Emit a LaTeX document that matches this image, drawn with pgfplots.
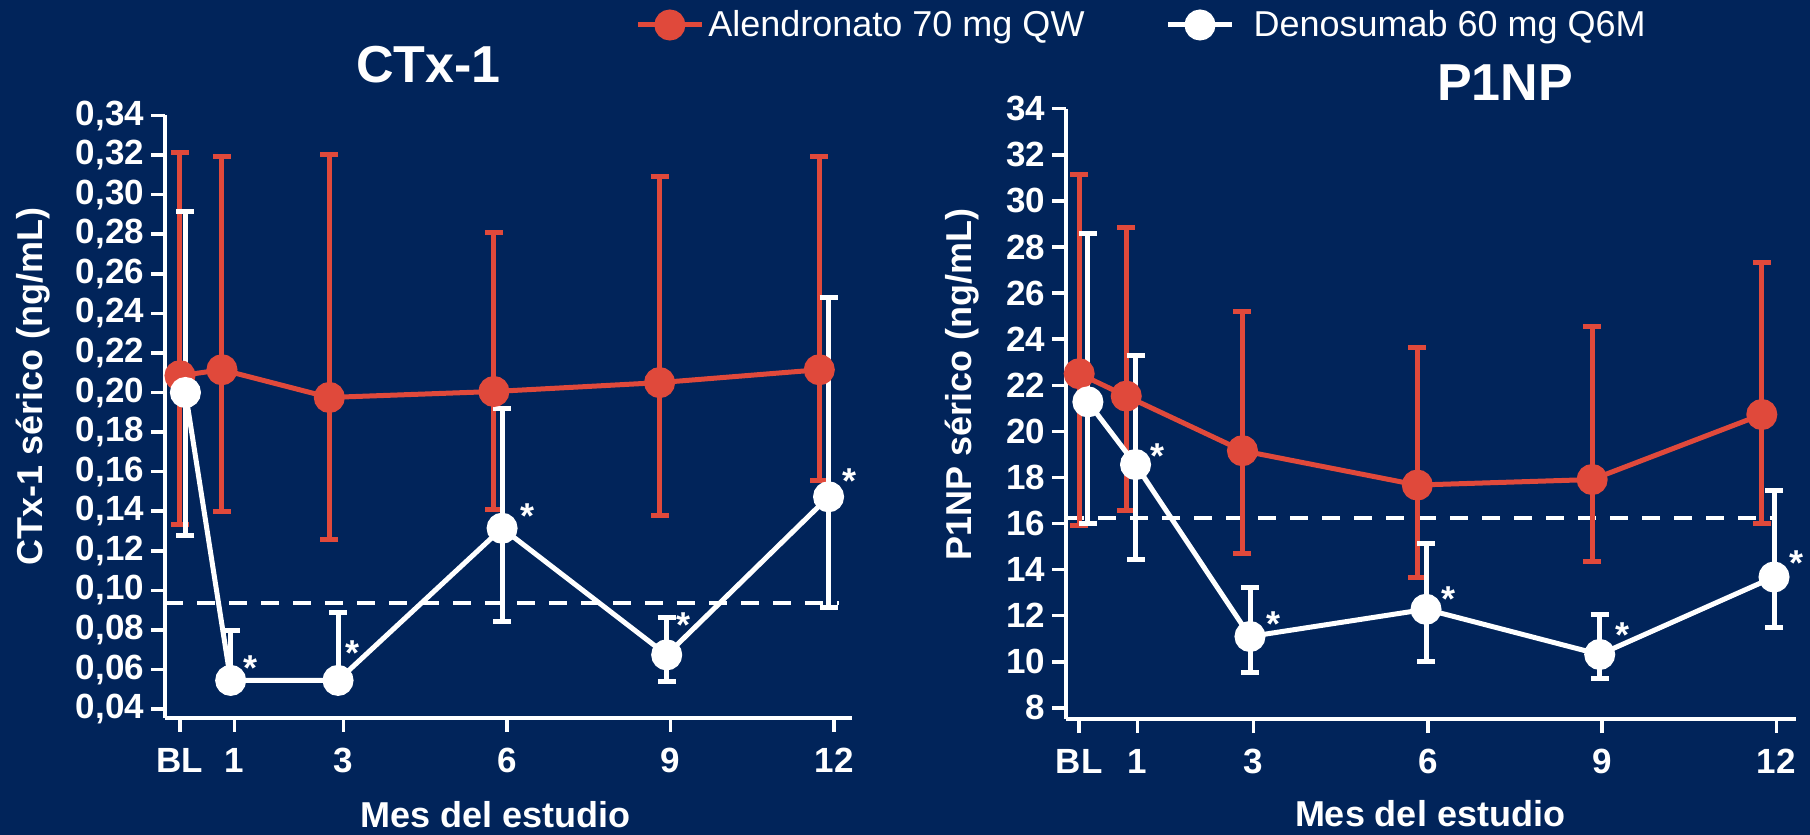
\documentclass[border=0pt]{standalone}
\usepackage{fontspec}
\setmainfont{Liberation Sans}
\usepackage{pgfplots}
\pgfplotsset{compat=1.18}

\definecolor{navy}{RGB}{1,36,90}
\definecolor{alen}{RGB}{224,73,59}

\tikzset{
  star/.style={text=white, font=\fontsize{18bp}{22bp}\selectfont\bfseries, inner sep=0pt, yshift=-4bp},
}

\pgfplotsset{
  panel/.style={
    scale only axis, clip=false,
    axis x line*=bottom, axis y line*=left,
    axis line style={white, line width=1.75bp, -},
    tick align=outside, major tick length=7bp,
    every tick/.style={white, line width=1.75bp},
    tick label style={text=white, font=\fontsize{17.5bp}{21bp}\selectfont\bfseries},
    xticklabel style={yshift=-4.5bp},
    xtick={0,1,3,6,9,12}, xticklabels={BL,1,3,6,9,12},
    label style={text=white, font=\fontsize{18bp}{22bp}\selectfont\bfseries},
    title style={text=white, font=\fontsize{26bp}{31bp}\selectfont\bfseries},
    xlabel={Mes del estudio},
    /pgf/number format/assume math mode=true,
  },
  grp/.style={color=#1, line width=2.5bp, mark=*, mark size=6.5bp,
    mark options={draw=none, fill=#1},
    error bars/.cd, y dir=both, y explicit,
    error bar style={line width=2.5bp, color=#1, solid},
    error mark options={rotate=90, mark size=4.5bp, line width=2.5bp, color=#1}},
  refline/.style={white, line width=2bp, dash pattern=on 9bp off 7bp, forget plot},
  wide legend/.style={
    legend image code/.code={
      \draw[mark repeat=2, mark phase=2, ##1] plot coordinates {(0bp,0bp) (16bp,0bp) (32bp,0bp)};
      \path (39.5bp,0bp);}},
}

\begin{document}
\begin{tikzpicture}
\fill[navy] (0,0) rectangle (905bp,417.5bp);

% ---------------- CTx-1 ----------------
\begin{axis}[panel,
  at={(82.5bp,58.5bp)}, anchor=south west,
  width=343.5bp, height=301.25bp,
  xmin=-0.275, xmax=12.33, ymin=0.0355, ymax=0.34,
  ytick={0.04,0.06,0.08,0.10,0.12,0.14,0.16,0.18,0.20,0.22,0.24,0.26,0.28,0.30,0.32,0.34},
  yticklabels={{0,04},{0,06},{0,08},{0,10},{0,12},{0,14},{0,16},{0,18},{0,20},{0,22},{0,24},{0,26},{0,28},{0,30},{0,32},{0,34}},
  ylabel={CTx-1 sérico (ng/mL)},
  title={CTx-1},
  xlabel style={at={(axis description cs:0.481,-0.181)}, anchor=base},
  ylabel style={at={(axis description cs:-0.1776,0.5502)}, anchor=base},
  title style={at={(axis description cs:0.3833,1.0357)}, anchor=base},
  legend columns=2,
  legend style={at={(axis description cs:0.6841,1.1502)}, anchor=west,
    draw=none, fill=none, inner sep=0pt, text=white,
    font=\fontsize{18bp}{22bp}\selectfont,
    /tikz/every even column/.append style={column sep=38.5bp}},
  legend image code/.code={
    \draw[mark repeat=2, mark phase=2, #1] plot coordinates {(0bp,0bp) (16bp,0bp) (32bp,0bp)};},
]
\addplot[refline] coordinates {(-0.275,0.0935) (12.1,0.0935)};

\addplot[grp=alen] coordinates {
  (0.00,0.2085) += (0,0.1130) -= (0,0.0750)
  (0.77,0.2115) += (0,0.1080) -= (0,0.0715)
  (2.74,0.1975) += (0,0.1230) -= (0,0.0717)
  (5.76,0.2005) += (0,0.0805) -= (0,0.0595)
  (8.80,0.2050) += (0,0.1040) -= (0,0.0670)
  (11.73,0.2115) += (0,0.1080) -= (0,0.0560)
};
\addlegendentry{Alendronato 70 mg QW}

\addplot[wide legend, grp=white] coordinates {
  (0.10,0.2000) += (0,0.0916) -= (0,0.0725)
  (0.93,0.0545) += (0,0.0250) -= (0,0.0030)
  (2.90,0.0545) += (0,0.0343) -= (0,0.0030)
  (5.91,0.1314) += (0,0.0606) -= (0,0.0471)
  (8.93,0.0674) += (0,0.0190) -= (0,0.0134)
  (11.90,0.1473) += (0,0.1005) -= (0,0.0558)
};
\addlegendentry{Denosumab 60 mg Q6M}

\node[star] at (axis cs:1.285,0.0647) {*};
\node[star] at (axis cs:3.16,0.0723) {*};
\node[star] at (axis cs:6.38,0.1414) {*};
\node[star] at (axis cs:9.24,0.0863) {*};
\node[star] at (axis cs:12.28,0.1593) {*};
\end{axis}

% ---------------- P1NP ----------------
\begin{axis}[panel,
  at={(533bp,58bp)}, anchor=south west,
  width=364.75bp, height=305.15bp,
  xmin=-0.227, xmax=12.33, ymin=7.52, ymax=34,
  ytick={8,10,12,14,16,18,20,22,24,26,28,30,32,34},
  yticklabels={8,10,12,14,16,18,20,22,24,26,28,30,32,34},
  ylabel={P1NP sérico (ng/mL)},
  title={P1NP},
  xlabel style={at={(axis description cs:0.499,-0.1765)}, anchor=base},
  ylabel style={at={(axis description cs:-0.1289,0.548)}, anchor=base},
  title style={at={(axis description cs:0.6018,0.9934)}, anchor=base},
]
\addplot[refline] coordinates {(-0.227,16.25) (12.0,16.25)};

\addplot[grp=alen] coordinates {
  (0.00,22.50) += (0,8.66) -= (0,6.58)
  (0.81,21.53) += (0,7.33) -= (0,4.98)
  (2.81,19.16) += (0,6.05) -= (0,4.47)
  (5.82,17.67) += (0,5.97) -= (0,4.01)
  (8.83,17.91) += (0,6.64) -= (0,3.54)
  (11.75,20.73) += (0,6.59) -= (0,4.71)
};

\addplot[grp=white] coordinates {
  (0.15,21.28) += (0,7.29) -= (0,5.28)
  (0.97,18.56) += (0,4.74) -= (0,4.14)
  (2.94,11.10) += (0,2.11) -= (0,1.57)
  (5.97,12.28) += (0,2.84) -= (0,2.25)
  (8.96,10.32) += (0,1.72) -= (0,1.03)
  (11.96,13.68) += (0,3.76) -= (0,2.19)
};

\node[star] at (axis cs:1.356,19.27) {*};
\node[star] at (axis cs:3.34,11.97) {*};
\node[star] at (axis cs:6.36,13.05) {*};
\node[star] at (axis cs:9.35,11.49) {*};
\node[star] at (axis cs:12.34,14.65) {*};
\end{axis}

\pgfresetboundingbox
\useasboundingbox (0,0) rectangle (905bp,417.5bp);
\end{tikzpicture}
\end{document}
